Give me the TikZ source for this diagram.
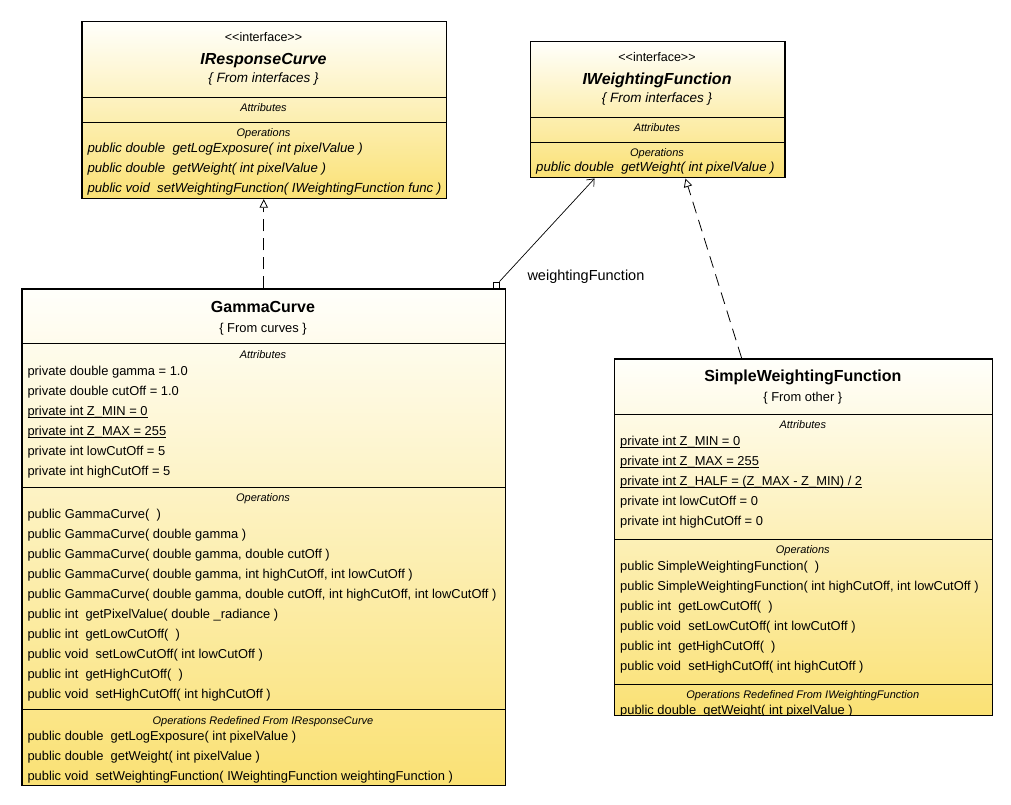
\documentclass[tikz,border=0pt]{standalone}
\usepackage{fontspec}
\setmainfont{Liberation Sans}
\usetikzlibrary{arrows.meta,positioning,calc}

\definecolor{umltop}{RGB}{255,255,251}
\definecolor{umlbot}{RGB}{250,225,116}

% underlined (static) member, rule sits on the underscore
\newcommand{\uln}[1]{\setbox0=\hbox{#1}\rlap{\vrule width\wd0 height -1.8pt depth 2.6pt}\box0}
% stereotype brackets, kept apart so they stay two characters
\newcommand{\stereotxt}[1]{<\kern0pt<#1>\kern0pt>}

\tikzset{
  umlclass/.style={draw, line width=1.2pt, top color=umltop, bottom color=umlbot, anchor=north west, inner sep=0pt},
  compsep/.style={line width=0.9pt},
  member/.style={anchor=base west, inner sep=0pt, font=\fontsize{12.9}{15}\selectfont},
  imember/.style={member, font=\fontsize{13.2}{15}\selectfont\itshape},
  sectitle/.style={anchor=base, inner sep=0pt, font=\fontsize{11}{13}\selectfont\itshape},
  stereo/.style={anchor=base, inner sep=0pt, font=\fontsize{12.5}{15}\selectfont},
  cname/.style={anchor=base, inner sep=0pt, font=\fontsize{16}{18}\selectfont\bfseries},
  iname/.style={cname, font=\fontsize{16}{18}\selectfont\bfseries\itshape},
  pkg/.style={anchor=base, inner sep=0pt, font=\fontsize{12.9}{15}\selectfont},
  ipkg/.style={pkg, font=\fontsize{13.5}{15}\selectfont\itshape},
  realize/.style={line width=0.8pt, dash pattern=on 12pt off 7pt, -{Triangle[open, length=8.5pt, width=8.5pt]}},
  assoc/.style={line width=0.7pt, ->},
  assocend/.style={draw, fill=white, line width=0.8pt, minimum size=6pt, inner sep=0pt},
  rolelabel/.style={anchor=base west, inner sep=0pt, font=\fontsize{14.5}{16}\selectfont}
}

\begin{document}
\begin{tikzpicture}[x=1pt, y=-1pt, >={Straight Barb[length=6pt, width=10pt]}]
  \useasboundingbox (0,0) rectangle (1011,805);

  % IResponseCurve
  \node[umlclass, minimum width=364.4, minimum height=176.7] (iresp) at (81.3,21.3) {};
  \draw[compsep] (iresp.west |- 0,97.3) -- (iresp.east |- 0,97.3);
  \draw[compsep] (iresp.west |- 0,122.7) -- (iresp.east |- 0,122.7);
  \node[stereo] (irespst) at (263.5,42) {\stereotxt{interface}};
  \node[iname] (irespnm) at (263.5,64.7) {IResponseCurve};
  \node[ipkg] (iresppk) at (263.5,83) {\{ From interfaces \}};
  \node[sectitle] (irespat) at (263.5,111.3) {Attributes};
  \node[sectitle] (irespop) at (263.5,137) {Operations};
  \foreach \mem [count=\i from 0] in {
      public double~ getLogExposure( int pixelValue ),
      public double~ getWeight( int pixelValue ),
      public void~ setWeightingFunction( IWeightingFunction func )}
    \node[imember] (irespo\i) at (87.3,152.3+20*\i) {\mem};

  % IWeightingFunction
  \node[umlclass, minimum width=254.3, minimum height=136] (iwf) at (530,41.3) {};
  \draw[compsep] (iwf.west |- 0,117.3) -- (iwf.east |- 0,117.3);
  \draw[compsep] (iwf.west |- 0,142.3) -- (iwf.east |- 0,142.3);
  \node[stereo] (iwfst) at (657,62) {\stereotxt{interface}};
  \node[iname] (iwfnm) at (657,84.7) {IWeightingFunction};
  \node[ipkg] (iwfpk) at (657,102.3) {\{ From interfaces \}};
  \node[sectitle] (iwfat) at (657,131.3) {Attributes};
  \node[sectitle] (iwfop) at (657,156.3) {Operations};
  \node[imember] (iwfo0) at (536,171.3) {public double~ getWeight( int pixelValue )};

  % GammaCurve
  \node[umlclass, minimum width=483.7, minimum height=496.4] (gamma) at (21.3,288.3) {};
  \draw[compsep] (gamma.west |- 0,343.5) -- (gamma.east |- 0,343.5);
  \draw[compsep] (gamma.west |- 0,487) -- (gamma.east |- 0,487);
  \draw[compsep] (gamma.west |- 0,709.7) -- (gamma.east |- 0,709.7);
  \node[cname] (gammanm) at (263,312.5) {GammaCurve};
  \node[pkg] (gammapk) at (263,332.5) {\{ From curves \}};
  \node[sectitle] (gammaat) at (263,358.5) {Attributes};
  \foreach \mem [count=\i from 0] in {
      private double gamma = 1.0,
      private double cutOff = 1.0,
      \uln{private int Z\_MIN = 0},
      \uln{private int Z\_MAX = 255},
      private int lowCutOff = 5,
      private int highCutOff = 5}
    \node[member] (gammaa\i) at (27.3,375.5+20*\i) {\mem};
  \node[sectitle] (gammaop) at (263,501.3) {Operations};
  \foreach \mem [count=\i from 0] in {
      public GammaCurve(~ ),
      public GammaCurve( double gamma ),
      {public GammaCurve( double gamma, double cutOff )},
      {public GammaCurve( double gamma, int highCutOff, int lowCutOff )},
      {public GammaCurve( double gamma, double cutOff, int highCutOff, int lowCutOff )},
      public int~ getPixelValue( double \_radiance ),
      public int~ getLowCutOff(~ ),
      public void~ setLowCutOff( int lowCutOff ),
      public int~ getHighCutOff(~ ),
      public void~ setHighCutOff( int highCutOff )}
    \node[member] (gammao\i) at (27.3,518+20*\i) {\mem};
  \node[sectitle] (gammard) at (263,724) {Operations Redefined From IResponseCurve};
  \foreach \mem [count=\i from 0] in {
      public double~ getLogExposure( int pixelValue ),
      public double~ getWeight( int pixelValue ),
      public void~ setWeightingFunction( IWeightingFunction weightingFunction )}
    \node[member] (gammar\i) at (27.3,740.5+20*\i) {\mem};

  % SimpleWeightingFunction
  \node[umlclass, minimum width=377.7, minimum height=356.7] (swf) at (614,358.3) {};
  \draw[compsep] (swf.west |- 0,414.3) -- (swf.east |- 0,414.3);
  \draw[compsep] (swf.west |- 0,539) -- (swf.east |- 0,539);
  \draw[compsep] (swf.west |- 0,684.3) -- (swf.east |- 0,684.3);
  \node[cname] (swfnm) at (802.8,381.7) {SimpleWeightingFunction};
  \node[pkg] (swfpk) at (802.8,401.7) {\{ From other \}};
  \node[sectitle] (swfat) at (802.8,428.3) {Attributes};
  \foreach \mem [count=\i from 0] in {
      \uln{private int Z\_MIN = 0},
      \uln{private int Z\_MAX = 255},
      \uln{private int Z\_HALF = (Z\_MAX - Z\_MIN) / 2},
      private int lowCutOff = 0,
      private int highCutOff = 0}
    \node[member] (swfa\i) at (620,445+20*\i) {\mem};
  \node[sectitle] (swfop) at (802.8,553.3) {Operations};
  \foreach \mem [count=\i from 0] in {
      public SimpleWeightingFunction(~ ),
      {public SimpleWeightingFunction( int highCutOff, int lowCutOff )},
      public int~ getLowCutOff(~ ),
      public void~ setLowCutOff( int lowCutOff ),
      public int~ getHighCutOff(~ ),
      public void~ setHighCutOff( int highCutOff )}
    \node[member] (swfo\i) at (620,570+20*\i) {\mem};
  \node[sectitle] (swfrd) at (802.8,698.3) {Operations Redefined From IWeightingFunction};
  \begin{scope}
    \clip ([yshift=0.6pt]swf.south west) rectangle (swf.north east);
    \node[member] (swfr0) at (620,714) {public double~ getWeight( int pixelValue )};
  \end{scope}

  % connectors
  \draw[realize] (gamma.north) -- (gamma.north |- iresp.south);
  \draw[realize] ([xshift=127.7pt]swf.north west) -- ([xshift=-100pt]iwf.south east);
  \node[assocend] (wfend) at (496.3,285) {};
  \draw[assoc] (wfend) -- (iwf);
  \node[rolelabel] (wflabel) at (527.3,280) {weightingFunction};
\end{tikzpicture}
\end{document}
